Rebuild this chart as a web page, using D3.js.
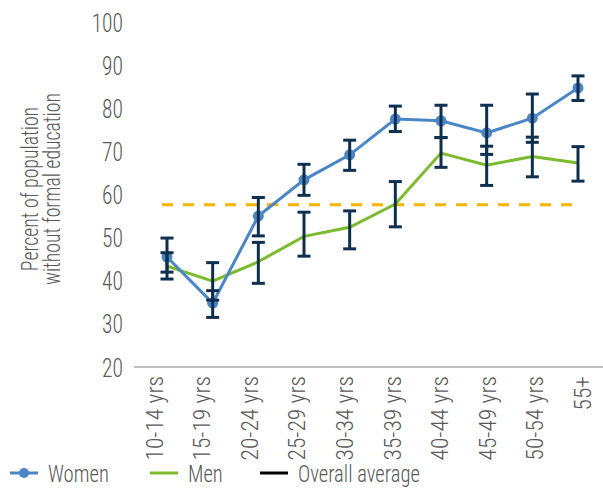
<!DOCTYPE html>
<html>
<head>
<meta charset="utf-8">
<script src="https://cdn.jsdelivr.net/npm/d3@7"></script>
<style>
  html, body { margin: 0; padding: 0; background: #fff; }
  svg text { font-family: "Roboto Condensed", "Liberation Sans Narrow", "DejaVu Sans Condensed", sans-serif; font-weight: 300; fill: #595959; }
</style>
</head>
<body>
<svg id="chart" width="603" height="488"></svg>
<script>
// Age groups on the x axis
const ageGroups = ["10-14 yrs", "15-19 yrs", "20-24 yrs", "25-29 yrs", "30-34 yrs",
                   "35-39 yrs", "40-44 yrs", "45-49 yrs", "50-54 yrs", "55+"];

// Percent of population without formal education
const women      = [45.5, 34.8, 55.0, 63.4, 69.2, 77.5, 77.1, 74.3, 77.7, 84.7];
const womenLower = [42.0, 31.5, 50.4, 59.8, 65.6, 74.6, 73.2, 69.3, 72.1, 81.8];
const womenUpper = [49.9, 37.7, 59.3, 67.0, 72.6, 80.5, 80.7, 80.7, 83.3, 87.5];

const men        = [43.4, 39.9, 44.4, 50.3, 52.4, 57.8, 69.6, 66.8, 68.8, 67.3];
const menLower   = [40.4, 35.5, 39.4, 45.7, 47.4, 52.5, 66.3, 62.1, 64.1, 63.1];
const menUpper   = [46.5, 44.2, 48.9, 55.9, 56.2, 63.0, 73.2, 71.2, 73.3, 71.1];

const overallAverage = 57.6;

const yTicks = [20, 30, 40, 50, 60, 70, 80, 90, 100];

const colors = { women: "#4a86c6", men: "#7cbb2d", avg: "#f6b500", err: "#0f2f4f", axis: "#bfbfbf" };

// horizontal squeeze used for the condensed text
const squeeze = 0.86;

const svg = d3.select("#chart");

const x = d3.scalePoint().domain(ageGroups).range([167, 578]);
// category labels sit on their own slightly wider spacing
const xLabel = d3.scalePoint().domain(ageGroups).range([154, 582]);
const y = d3.scaleLinear().domain([20, 100]).range([367, 22]);

// x axis baseline
svg.append("line")
  .attr("x1", 134).attr("x2", 603)
  .attr("y1", y(20)).attr("y2", y(20))
  .attr("stroke", colors.axis).attr("stroke-width", 2);

// y axis labels
const yAxis = d3.axisLeft(y).tickValues(yTicks).tickSize(0).tickPadding(0);
const gy = svg.append("g").attr("transform", "translate(123,0)").call(yAxis);
gy.select(".domain").remove();
gy.attr("font-family", null);
gy.selectAll("text")
  .attr("font-size", 25).attr("x", 0).attr("dy", "0.36em")
  .attr("transform", `scale(${squeeze},1)`)
  .style("fill", "#595959");

// x axis labels, rotated
const xAxis = d3.axisBottom(xLabel).tickSize(0).tickPadding(0);
const gx = svg.append("g").attr("transform", `translate(0,${y(20)})`).call(xAxis);
gx.select(".domain").remove();
gx.attr("font-family", null);
gx.selectAll("text")
  .attr("font-size", 23.5)
  .attr("text-anchor", "end")
  .attr("transform", "translate(0,9) rotate(-90)")
  .attr("x", 0).attr("y", 0).attr("dy", "0.35em")
  .style("fill", "#595959");

// y axis title
const title = svg.append("text")
  .attr("transform", `translate(41,189) rotate(-90) scale(${squeeze},1)`)
  .attr("text-anchor", "middle")
  .attr("font-size", 23);
title.append("tspan").attr("x", 0).attr("dy", "-0.15em").text("Percent of population");
title.append("tspan").attr("x", 0).attr("dy", "0.98em").text("without formal education");

// overall average
svg.append("line")
  .attr("x1", x(ageGroups[0]) - 5).attr("x2", x(ageGroups[ageGroups.length - 1]) - 4)
  .attr("y1", y(overallAverage)).attr("y2", y(overallAverage))
  .attr("stroke", colors.avg).attr("stroke-width", 3)
  .attr("stroke-dasharray", "11,10");

const line = d3.line().x((d, i) => x(ageGroups[i])).y(d => y(d));

// men line
svg.append("path").datum(men)
  .attr("d", line).attr("fill", "none")
  .attr("stroke", colors.men).attr("stroke-width", 3);

// women line
svg.append("path").datum(women)
  .attr("d", line).attr("fill", "none")
  .attr("stroke", colors.women).attr("stroke-width", 3);

// women markers
svg.selectAll("circle.women").data(women).join("circle")
  .attr("class", "women")
  .attr("cx", (d, i) => x(ageGroups[i])).attr("cy", d => y(d))
  .attr("r", 5.5).attr("fill", colors.women);

// error bars
function errorBars(lower, upper, cls) {
  const g = svg.append("g").attr("class", cls)
    .attr("stroke", colors.err).attr("stroke-width", 3).attr("fill", "none");
  const capHalf = 6.5;
  lower.forEach((lo, i) => {
    const cx = x(ageGroups[i]);
    g.append("line").attr("x1", cx).attr("x2", cx).attr("y1", y(upper[i])).attr("y2", y(lo));
    g.append("line").attr("x1", cx - capHalf).attr("x2", cx + capHalf).attr("y1", y(upper[i])).attr("y2", y(upper[i]));
    g.append("line").attr("x1", cx - capHalf).attr("x2", cx + capHalf).attr("y1", y(lo)).attr("y2", y(lo));
  });
}
errorBars(menLower, menUpper, "err-men");
errorBars(womenLower, womenUpper, "err-women");

// legend
const legendY = 473;
const legendItems = [
  { label: "Women", color: colors.women, dot: true, x0: 10 },
  { label: "Men", color: colors.men, dot: false, x0: 150 },
  { label: "Overall average", color: "#000", dot: false, x0: 260 }
];
const lg = svg.append("g");
legendItems.forEach(it => {
  lg.append("line")
    .attr("x1", it.x0).attr("x2", it.x0 + 28)
    .attr("y1", legendY).attr("y2", legendY)
    .attr("stroke", it.color).attr("stroke-width", 3);
  if (it.dot) {
    lg.append("circle").attr("cx", it.x0 + 14).attr("cy", legendY).attr("r", 5).attr("fill", it.color);
  }
  lg.append("text")
    .attr("transform", `translate(${it.x0 + 38},${legendY}) scale(${squeeze},1)`)
    .attr("dy", "0.36em")
    .attr("font-size", 24)
    .text(it.label);
});
</script>
</body>
</html>
